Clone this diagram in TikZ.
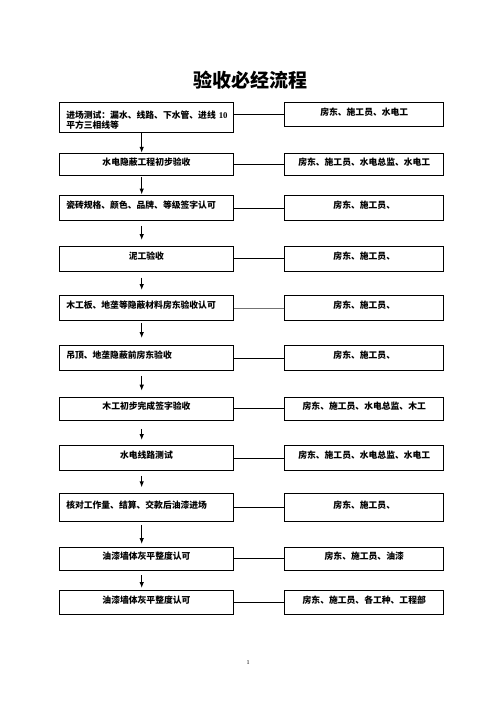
\documentclass[tikz,border=0pt]{standalone}
\usepackage{fontspec}
\setmainfont{Liberation Serif}
\newfontfamily\cjk{Noto Sans CJK SC}
\usepackage{tikz}
\tikzset{>=latex}
\usetikzlibrary{arrows.meta}
\def\lineW{0.9pt}

\tikzset{
  stepbox/.style={draw=black, line width=\lineW, inner ysep=0pt, inner xsep=6.5pt,
    font=\cjk\bfseries\fontsize{8.8}{10.5}\selectfont, text height=5pt, text depth=3pt},
  flow/.style={-{Latex[length=6pt,width=4.6pt]}, line width=1pt},
  link/.style={line width=\lineW},
}

\begin{document}
\begin{tikzpicture}[x=1pt,y=-1pt]
\useasboundingbox (0,0) rectangle (496,702);

\node[font=\cjk\bfseries\fontsize{19}{22}\selectfont] (title) at (250.5,80.5) {验收必经流程};

% left column: steps
\foreach \i/\t/\b/\al/\txt [evaluate=\b as \h using \b-\t] in {
  1/101.7/131.7/left/{进场测试：漏水、线路、下水管、进线~{\rmfamily 10}\\平方三相线等},
  2/153.3/175/center/水电隐蔽工程初步验收,
  3/195/220/left/瓷砖规格、颜色、品牌、等级签字认可,
  4/246/270.7/center/泥工验收,
  5/295/320/left/木工板、地垄等隐蔽材料房东验收认可,
  6/345/370/left/吊顶、地垄隐蔽前房东验收,
  7/396.7/420/center/木工初步完成签字验收,
  8/445/470/center/水电线路测试,
  9/493.3/520.5/left/核对工作量、结算、交款后油漆进场,
  10/547/569.5/center/油漆墙体灰平整度认可,
  11/590/614.3/center/油漆墙体灰平整度认可}{
  \node[stepbox, anchor=north west, text width=160.4pt, align=\al,
    minimum height=\h pt] (L\i) at (59.3,\t) {\txt};
}

% right column: who signs
\foreach \i/\t/\b/\c/\txt [evaluate=\b as \h using \b-\t] in {
  1/101.7/125.7/black/房东、施工员、水电工,
  2/153.3/175/black/房东、施工员、水电总监、水电工,
  3/195/220/black/房东、施工员、,
  4/246/270.7/black/房东、施工员、,
  5/295/320/black!55/房东、施工员、,
  6/345/370/black/房东、施工员、,
  7/396.7/420/black/房东、施工员、水电总监、木工,
  8/445/470/black/房东、施工员、水电总监、水电工,
  9/493.3/520.5/black/房东、施工员、,
  10/547/569.5/black/房东、施工员、油漆,
  11/590/614.3/black/房东、施工员、各工种、工程部}{
  \node[stepbox, anchor=north west, text width=146pt, align=center,
    minimum height=\h pt] (R\i) at (284.3,\t) {\txt};
  \draw[link, draw=\c] (R\i.west) -- (R\i.west -| L\i.east);
}

% arrows down the left column
\coordinate (ax) at (141.7,0);
\foreach \i/\j/\sa/\sb in {1/2/0/0.5, 2/3/1.5/0.5, 3/4/5/6, 4/5/6/5, 5/6/2/7,
    6/7/5/6, 7/8/8/5, 8/9/5/6, 9/10/4/3, 10/11/5/2}{
  \draw[flow, shorten <=\sa pt, shorten >=\sb pt] (L\i.south -| ax) -- (L\j.north -| ax);
}

\node[font=\fontsize{6}{7}\selectfont] (pageno) at (248,663) {1};

\end{tikzpicture}
\end{document}
